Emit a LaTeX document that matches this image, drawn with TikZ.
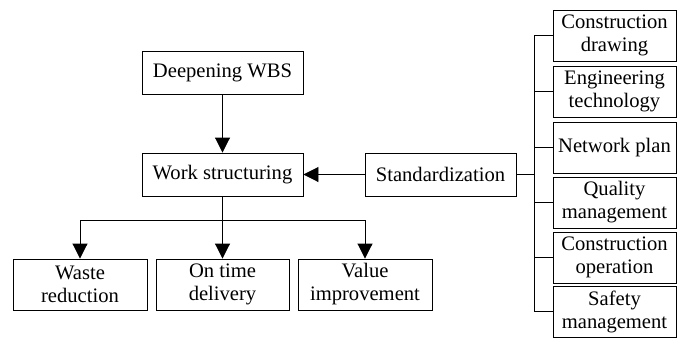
\documentclass[tikz,border=0pt]{standalone}
\usepackage{fontspec}
\setmainfont{Liberation Serif}
\usetikzlibrary{arrows.meta}
\begin{document}
\begin{tikzpicture}[x=1pt,y=-1pt,
  box/.style={draw, line width=0.9pt, inner sep=0pt, align=center, font=\fontsize{20.6}{23}\selectfont},
  mid/.style={box, minimum width=161pt, minimum height=43pt},
  low/.style={box, minimum width=134pt, minimum height=51pt},
  side/.style={box, minimum width=123pt, minimum height=51pt},
  arr/.style={line width=0.9pt, -{Triangle[length=15pt,width=15pt]}},
  ln/.style={line width=0.9pt}]
\useasboundingbox (0,0) rectangle (677,338);
\node[mid] (wbs) at (222.5,73) {Deepening WBS};
\node[mid] (work) at (222.5,174.5) {Work structuring};
\node[box, minimum width=151pt, minimum height=43pt] (std) at (440.5,174.5) {Standardization};
\node[low] (waste) at (80,284.5) {Waste\\reduction};
\node[low, minimum width=133pt] (ontime) at (222.5,284.5) {On time\\delivery};
\node[low] (value) at (365,284.5) {Value\\improvement};
\node[side] (r1) at (614.5,35.5) {Construction\\drawing};
\node[side] (r2) at (614.5,91.5) {Engineering\\technology};
\node[side] (r3) at (614.5,147.5) {Network plan};
\node[side] (r4) at (614.5,202.5) {Quality\\management};
\node[side] (r5) at (614.5,257.5) {Construction\\operation};
\node[side] (r6) at (614.5,311.5) {Safety\\management};
\coordinate (bus) at (534,0);
\coordinate (split) at (222.5,220);
\draw[arr] (wbs.south) -- (work.north);
\draw[arr] (std.west) -- (work.east);
\draw[ln] (std.east) -- (std.east -| bus);
\draw[ln] (r1.west -| bus) -- (r6.west -| bus);
\foreach \n in {r1,r2,r3,r4,r5,r6} \draw[ln] (\n.west -| bus) -- (\n.west);
\draw[ln] (work.south) -- (split);
\draw[ln] (waste.north |- split) -- (value.north |- split);
\foreach \n in {waste,ontime,value} \draw[arr] (\n.north |- split) -- (\n.north);
\end{tikzpicture}
\end{document}
